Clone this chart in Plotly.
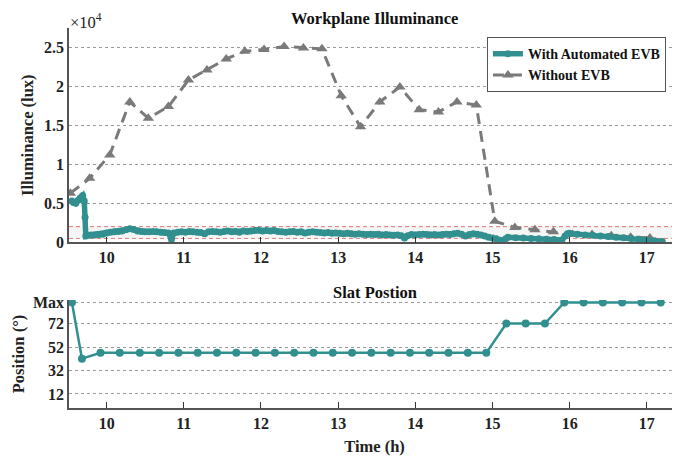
import plotly.graph_objects as go
from plotly.subplots import make_subplots

# ---- Data ----
evb_t = [9.55, 9.57, 9.60, 9.63, 9.66, 9.69, 9.71, 9.72, 9.73, 9.76, 9.80, 9.85, 9.90, 9.95,
         10.00, 10.05, 10.10, 10.15, 10.20, 10.25, 10.30, 10.35, 10.40, 10.45, 10.50, 10.55,
         10.60, 10.65, 10.70, 10.75, 10.80, 10.84, 10.87, 10.92, 10.97, 11.02, 11.07, 11.12,
         11.17, 11.22, 11.27, 11.32, 11.37, 11.42, 11.47, 11.52, 11.57, 11.62, 11.67, 11.72,
         11.77, 11.82, 11.87, 11.92, 11.97, 12.02, 12.07, 12.12, 12.17, 12.22, 12.27, 12.32,
         12.37, 12.42, 12.47, 12.52, 12.57, 12.62, 12.67, 12.72, 12.77, 12.82, 12.87, 12.92,
         12.97, 13.02, 13.07, 13.12, 13.17, 13.22, 13.27, 13.32, 13.37, 13.42, 13.47, 13.52,
         13.57, 13.62, 13.67, 13.72, 13.77, 13.82, 13.86, 13.90, 13.95, 14.00, 14.05, 14.10,
         14.15, 14.20, 14.25, 14.30, 14.35, 14.40, 14.45, 14.50, 14.55, 14.60, 14.65, 14.70,
         14.75, 14.80, 14.85, 14.90, 14.95, 15.00, 15.05, 15.10, 15.13, 15.17, 15.20, 15.30,
         15.40, 15.50, 15.60, 15.70, 15.80, 15.90, 15.94, 15.97, 16.00, 16.10, 16.20, 16.30,
         16.40, 16.50, 16.60, 16.70, 16.80, 16.90, 17.00, 17.10, 17.20]
evb_lux = [5300, 5100, 5000, 5400, 5700, 6000, 5300, 3200, 800, 900, 950, 950, 1000, 1050,
           1200, 1300, 1350, 1400, 1450, 1600, 1750, 1650, 1450, 1400, 1350, 1350,
           1400, 1350, 1300, 1250, 1200, 350, 1200, 1300, 1350, 1300, 1400, 1350,
           1300, 1250, 1100, 1350, 1400, 1350, 1300, 1400, 1450, 1350, 1400, 1300,
           1450, 1400, 1450, 1500, 1550, 1450, 1500, 1450, 1500, 1400, 1350, 1300,
           1350, 1400, 1300, 1350, 1200, 1300, 1350, 1300, 1250, 1200, 1250, 1150,
           1200, 1150, 1100, 1150, 1100, 1050, 1100, 1050, 1000, 1050, 1000, 1050,
           950, 1000, 950, 900, 950, 850, 550, 850, 1000, 950, 1000, 1050,
           1000, 950, 1000, 950, 1000, 1050, 1000, 1100, 1150, 1050, 800, 1000,
           1100, 1050, 950, 800, 650, 550, 450, 250, 150, 450, 650, 600,
           550, 500, 450, 400, 350, 300, 800, 1100, 1150, 1050, 950, 900,
           800, 750, 650, 600, 500, 400, 300, 200, 120]

noevb_t = [9.53, 9.78, 10.04, 10.30, 10.54, 10.80, 11.06, 11.30, 11.55, 11.79, 12.04, 12.30,
           12.55, 12.79, 13.04, 13.29, 13.54, 13.80, 14.05, 14.30, 14.54, 14.79, 15.03, 15.29,
           15.55, 15.79, 16.04, 16.29, 16.54, 16.79, 17.04]
noevb_lux = [6300, 8200, 11200, 18000, 15900, 17400, 20800, 22100, 23500, 24500, 24700, 25100,
             24900, 24800, 18800, 14800, 18000, 19900, 17000, 16700, 18000, 17600, 2700, 1900,
             1600, 1350, 1000, 1000, 850, 650, 550]

slat_t = [9.55, 9.68, 9.92, 10.17, 10.43, 10.68, 10.93, 11.18, 11.43, 11.68, 11.93, 12.18,
          12.43, 12.68, 12.93, 13.18, 13.43, 13.68, 13.93, 14.18, 14.43, 14.68, 14.92, 15.18,
          15.43, 15.68, 15.93, 16.18, 16.43, 16.68, 16.93, 17.18]
slat_pos = [90, 42, 47, 47, 47, 47, 47, 47, 47, 47, 47, 47,
            47, 47, 47, 47, 47, 47, 47, 47, 47, 47, 47, 72,
            72, 72, 90, 90, 90, 90, 90, 90]

udi_low, udi_high = 500, 2000
lux_ticks = [0, 5000, 10000, 15000, 20000, 25000]
lux_ticktext = ["0", "0.5", "1", "1.5", "2", "2.5"]
pos_ticks = [12, 32, 52, 72, 90]
pos_ticktext = ["12", "32", "52", "72", "Max"]
hour_ticks = [10, 11, 12, 13, 14, 15, 16, 17]

TEAL = "#31908f"
GREY = "#7a7a7a"
FONT = "Liberation Serif"

fig = make_subplots(rows=2, cols=1, shared_xaxes=False, vertical_spacing=0.0)

# light band between red dashed lines
fig.add_shape(type="rect", xref="x", yref="y", x0=9.5, x1=17.5, y0=udi_low, y1=udi_high,
              fillcolor="rgba(235,235,235,0.5)", line_width=0, layer="below")
for v in (udi_low, udi_high):
    fig.add_shape(type="line", xref="x domain", yref="y", x0=0, x1=1, y0=v, y1=v,
                  line=dict(color="#e05555", width=1, dash="4px,3px"), layer="below")

fig.add_trace(go.Scatter(x=noevb_t, y=noevb_lux, mode="lines+markers", name="Without EVB",
                         line=dict(color=GREY, width=3, dash="11px,7px"),
                         marker=dict(symbol="triangle-up", size=10, color=GREY),
                         legendrank=2), row=1, col=1)
fig.add_trace(go.Scatter(x=evb_t, y=evb_lux, mode="lines+markers", name="With Automated EVB",
                         line=dict(color=TEAL, width=5.5),
                         marker=dict(symbol="circle", size=7, color=TEAL),
                         legendrank=1), row=1, col=1)
fig.add_trace(go.Scatter(x=slat_t, y=slat_pos, mode="lines+markers", showlegend=False,
                         line=dict(color=TEAL, width=2.5),
                         marker=dict(symbol="circle", size=8, color=TEAL)), row=2, col=1)

axis_common = dict(showline=True, linecolor="#555", linewidth=1.5, zeroline=False, automargin=False,
                   tickfont=dict(family=FONT, size=16, color="#222", weight="bold"))
xr = [9.512, 17.43]
fig.update_xaxes(range=xr, tickvals=hour_ticks, ticks="inside", ticklen=6, tickcolor="#333",
                 tickwidth=1.2, showgrid=False, **axis_common)
fig.update_yaxes(showgrid=True, gridcolor="#9a9a9a", griddash="dot", gridwidth=1, ticks="",
                 **axis_common)
fig.update_yaxes(range=[0, 27470], tickvals=lux_ticks, ticktext=lux_ticktext,
                 title=dict(text="<b>Illuminance (lux)</b>", font=dict(family=FONT, size=16.5, color="#222"),
                            standoff=6),
                 domain=[0.436, 1.0], row=1, col=1)
fig.update_yaxes(range=[0, 92], tickvals=pos_ticks, ticktext=pos_ticktext,
                 title=dict(text="<b>Position (°)</b>", font=dict(family=FONT, size=16.5, color="#222"),
                            standoff=4),
                 domain=[0.0, 0.284], row=2, col=1)
fig.update_xaxes(title=dict(text="<b>Time (h)</b>", font=dict(family=FONT, size=16.5, color="#222"),
                            standoff=9), row=2, col=1)

# page body adds 8px margin, so the figure is 8px smaller and shifted
fig.update_layout(
    width=672, height=450,
    margin=dict(l=61, r=0, t=20, b=50),
    plot_bgcolor="white", paper_bgcolor="white",
    font=dict(family=FONT, size=16, color="#222"),
    legend=dict(x=0.684, y=0.976, xanchor="left", yanchor="top",
                bgcolor="white", bordercolor="#555", borderwidth=1,
                font=dict(family=FONT, size=14, color="#111", weight="bold"),
                tracegroupgap=0, itemwidth=30),
    annotations=[
        dict(text="<b>Workplane Illuminance</b>", xref="x domain", yref="paper", x=0.5, y=1.026,
             xanchor="center", yanchor="middle", showarrow=False,
             font=dict(family=FONT, size=16.5, color="#111")),
        dict(text="<b>Slat Postion</b>", xref="x2 domain", yref="paper", x=0.5, y=0.303,
             xanchor="center", yanchor="middle", showarrow=False,
             font=dict(family=FONT, size=16.5, color="#111")),
        dict(text="×10<sup>4</sup>", xref="paper", yref="paper", x=0.0, y=0.988,
             xanchor="left", yanchor="bottom", showarrow=False, borderpad=0,
             font=dict(family=FONT, size=16.5, color="#222")),
    ],
)

fig.write_html("out.html")
